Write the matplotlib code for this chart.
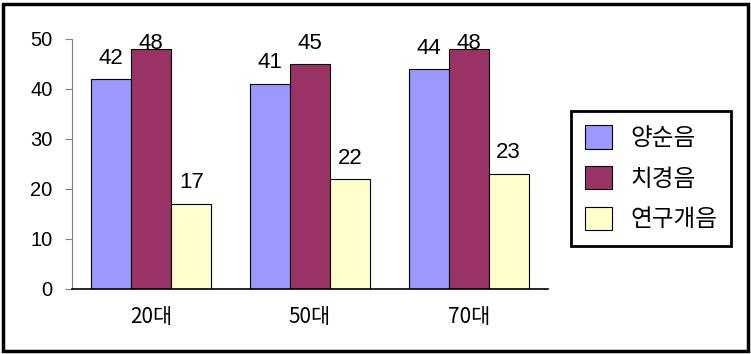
import matplotlib
matplotlib.use("Agg")
import matplotlib.pyplot as plt
from matplotlib.patches import Rectangle
import numpy as np

plt.rcParams['font.family'] = ['Liberation Sans', 'Noto Sans CJK KR', 'DejaVu Sans']

# age groups and the three consonant types
groups = ['20대', '50대', '70대']
series = ['양순음', '치경음', '연구개음']
yangsun = [42, 41, 44]
chigyeong = [48, 45, 48]
yeongugae = [17, 22, 23]
colors = ['#9999FF', '#993366', '#FFFFCC']

fig = plt.figure(figsize=(7.51, 3.54), dpi=100)
ax = fig.add_axes([72 / 751, 65 / 354, 476 / 751, 250 / 354])

x = np.arange(len(groups))
w = 0.252
bars = []
for i, (vals, c) in enumerate(zip([yangsun, chigyeong, yeongugae], colors)):
    b = ax.bar(x + (i - 1) * w, vals, w, color=c, edgecolor='black',
               linewidth=0.8, label=series[i])
    bars.append(b)
    # value labels, kept inside the chart area at the top
    for xi, v in zip(x, vals):
        ax.text(xi + (i - 1) * w, min(v + 3.1, 48.0), str(v), ha='center',
                va='baseline', fontsize=16, clip_on=False)

ax.set_xlim(-0.5, 2.5)
ax.set_ylim(0, 50)
ax.set_yticks(range(0, 51, 10))
ax.set_xticks(x)
ax.set_xticklabels(groups, fontsize=15, family=['Noto Sans CJK KR'])
ax.tick_params(axis='x', length=0, pad=12)
ax.tick_params(axis='y', length=5, color='#808080', labelsize=14.5, pad=9)

for s in ['top', 'right']:
    ax.spines[s].set_visible(False)
ax.spines['left'].set_color('#808080')
ax.spines['bottom'].set_color('black')
ax.spines['bottom'].set_linewidth(1.2)

leg = fig.legend(handles=bars, labels=series, loc='upper left',
                 bbox_to_anchor=(571 / 751, 1 - 111 / 354),
                 prop={'family': 'Noto Sans CJK KR', 'size': 17},
                 handlelength=1.15, handleheight=1.15, handletextpad=0.75,
                 labelspacing=0.68, borderpad=0.6, borderaxespad=0,
                 fancybox=False, framealpha=1, edgecolor='black')
leg.get_frame().set_linewidth(2)

# outer border round the whole chart
fig.patches.append(Rectangle((3 / 751, 3 / 354), 745 / 751, 347 / 354,
                             transform=fig.transFigure, fill=False,
                             edgecolor='black', linewidth=2.5))

fig.savefig('out.png', dpi=100)
